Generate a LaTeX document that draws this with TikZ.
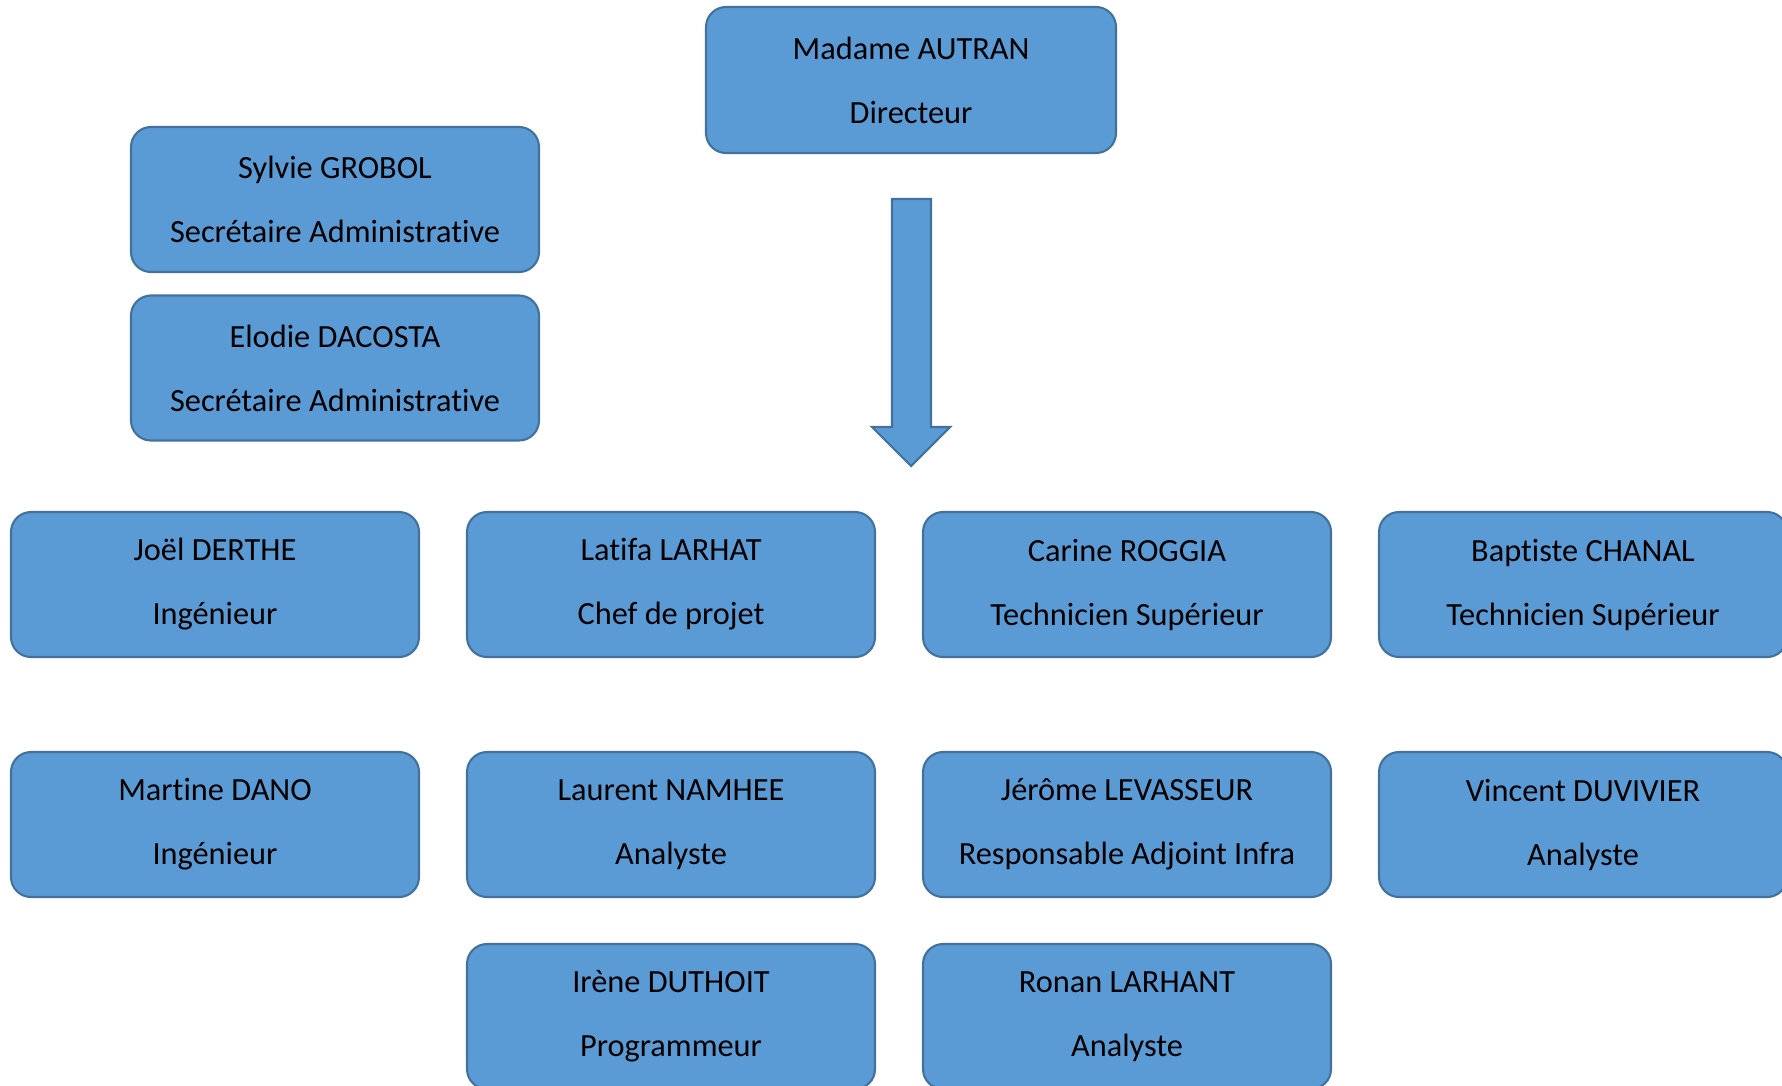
\documentclass[tikz,border=0pt]{standalone}
\usepackage{fontspec}
\setmainfont[Ligatures={NoCommon,NoRequired,NoContextual},Contextuals=NoAlternate]{Carlito}
\usepackage{tikz}
\usetikzlibrary{positioning}

\definecolor{bleu}{HTML}{5B9BD5}
\definecolor{bord}{HTML}{41719C}

\tikzset{
  poste/.style={draw=bord, fill=bleu, line width=0.6pt, rounded corners=0.2cm,
    minimum width=4.08cm, minimum height=1.45cm, align=center, inner sep=0pt,
    font=\fontsize{9.2}{18.2}\selectfont}
}

\begin{document}
\begin{tikzpicture}

\useasboundingbox (0,0) rectangle (17.82,-10.85);
\clip (0,0) rectangle (17.82,-10.85);

\node[poste, minimum width=4.10cm, minimum height=1.46cm] (autran) at (9.11,-0.80) {Madame AUTRAN\\Directeur};

\node[poste] (grobol) at (3.35,-1.995) {Sylvie GROBOL\\Secrétaire Administrative};
\node[poste] (dacosta) at (3.35,-3.68) {Elodie DACOSTA\\Secrétaire Administrative};

% fleche
\draw[draw=bord, fill=bleu, line width=0.6pt] (8.92,-1.99) -- (9.31,-1.99) -- (9.31,-4.27) -- (9.50,-4.27)
  -- (9.11,-4.66) -- (8.72,-4.27) -- (8.92,-4.27) -- cycle;

\node[poste] (derthe) at (2.15,-5.845) {Joël DERTHE\\Ingénieur};
\node[poste] (larhat) at (6.71,-5.845) {Latifa LARHAT\\Chef de projet};
\node[poste] (roggia) at (11.27,-5.845) {Carine ROGGIA\\Technicien Supérieur};
\node[poste] (chanal) at (15.83,-5.845) {Baptiste CHANAL\\Technicien Supérieur};

\node[poste] (dano) at (2.15,-8.245) {Martine DANO\\Ingénieur};
\node[poste] (namhee) at (6.71,-8.245) {Laurent NAMHEE\\Analyste};
\node[poste] (levasseur) at (11.27,-8.245) {Jérôme LEVASSEUR\\Responsable Adjoint Infra};
\node[poste] (duvivier) at (15.83,-8.245) {Vincent DUVIVIER\\Analyste};

\node[poste] (duthoit) at (6.71,-10.165) {Irène DUTHOIT\\Programmeur};
\node[poste] (larhant) at (11.27,-10.165) {Ronan LARHANT\\Analyste};

\end{tikzpicture}
\end{document}
